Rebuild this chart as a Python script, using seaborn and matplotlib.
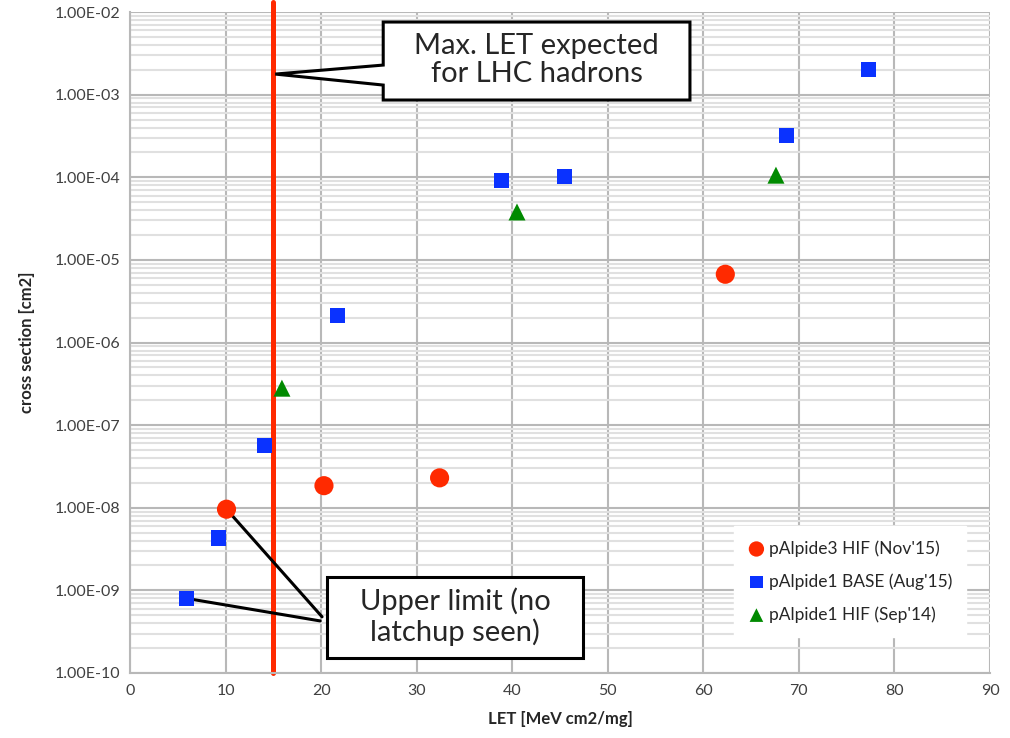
import numpy as np
import pandas as pd
import matplotlib
matplotlib.use("Agg")
import matplotlib.pyplot as plt
from matplotlib.patches import Polygon
from matplotlib.ticker import FixedLocator, FuncFormatter, LogLocator, NullFormatter
import seaborn as sns

# Latchup cross section vs LET for the three irradiation campaigns
p3_hif_let = [10.1, 20.3, 32.4, 62.3]
p3_hif_xs = [9.6e-9, 1.85e-8, 2.3e-8, 6.7e-6]

p1_base_let = [5.9, 9.3, 14.1, 21.7, 38.9, 45.5, 68.7, 77.3]
p1_base_xs = [8.0e-10, 4.3e-9, 5.7e-8, 2.1e-6, 9.2e-5, 1.03e-4, 3.2e-4, 2.0e-3]

p1_hif_let = [15.9, 40.5, 67.6]
p1_hif_xs = [2.8e-7, 3.8e-5, 1.06e-4]

series_names = ["pAlpide3 HIF (Nov'15)", "pAlpide1 BASE (Aug'15)", "pAlpide1 HIF (Sep'14)"]
max_let_lhc = 15.0

x_ticks = list(range(0, 100, 10))
y_decades = [1e-10, 1e-9, 1e-8, 1e-7, 1e-6, 1e-5, 1e-4, 1e-3, 1e-2]

df = pd.concat([
    pd.DataFrame({"LET": p3_hif_let, "xs": p3_hif_xs, "series": series_names[0]}),
    pd.DataFrame({"LET": p1_base_let, "xs": p1_base_xs, "series": series_names[1]}),
    pd.DataFrame({"LET": p1_hif_let, "xs": p1_hif_xs, "series": series_names[2]}),
])

sns.set_style("white")
plt.rcParams["font.family"] = ["Lato", "DejaVu Sans"]

fig = plt.figure(figsize=(10.1, 7.38), dpi=100)
ax = fig.add_axes([0.1287, 0.0881, 0.8515, 0.8956])

ax.set_yscale("log")
ax.set_xlim(0, 90)
ax.set_ylim(1e-10, 1e-2)

# grid: major decades, minor 2..9, verticals every 10
ax.xaxis.set_major_locator(FixedLocator(x_ticks))
ax.yaxis.set_major_locator(FixedLocator(y_decades))
ax.yaxis.set_minor_locator(LogLocator(base=10, subs=np.arange(2, 10), numticks=20))
ax.yaxis.set_minor_formatter(NullFormatter())
ax.yaxis.set_major_formatter(FuncFormatter(lambda v, _: f"{v:.2E}"))
ax.grid(True, which="major", axis="both", color="#b8b8b8", linewidth=1.5, zorder=0)
ax.grid(True, which="minor", axis="y", color="#e0e0e0", linewidth=1.5, zorder=0)
ax.set_axisbelow(True)

for side in ["top", "right"]:
    ax.spines[side].set_visible(False)
for side in ["left", "bottom"]:
    ax.spines[side].set_color("#b8b8b8")
    ax.spines[side].set_linewidth(1.5)

ax.tick_params(axis="y", which="major", length=4, color="#b8b8b8", width=1.5,
               labelsize=11.5, labelcolor="#404040", pad=3)
ax.tick_params(axis="y", which="minor", length=0)
ax.tick_params(axis="x", which="major", length=0, labelsize=11.5, labelcolor="#404040", pad=8)

ax.set_xlabel("LET [MeV cm2/mg]", fontsize=12, fontweight="bold", labelpad=9)
ax.set_ylabel("cross section [cm2]", fontsize=12, fontweight="bold", labelpad=14)

# maximum LET expected for LHC hadrons
ax.axvline(max_let_lhc, ymin=0, ymax=1.015, color="#ff2a00", linewidth=3.6,
           clip_on=False, zorder=2)

# leader lines of the "upper limit" callout
ax.annotate("", xy=(p3_hif_let[0], p3_hif_xs[0]), xytext=(20.1, 10 ** -9.32),
            arrowprops=dict(arrowstyle="-", color="black", lw=2.2, shrinkA=0, shrinkB=0),
            zorder=3)
ax.annotate("", xy=(p1_base_let[0], p1_base_xs[0]), xytext=(19.9, 10 ** -9.37),
            arrowprops=dict(arrowstyle="-", color="black", lw=2.2, shrinkA=0, shrinkB=0),
            zorder=3)

marker_style = {
    series_names[0]: dict(marker="o", color="#ff2a00", s=190),
    series_names[1]: dict(marker="s", color="#0a32ff", s=120),
    series_names[2]: dict(marker="^", color="#008a00", s=150),
}
for name in series_names:
    st = marker_style[name]
    sns.scatterplot(data=df[df["series"] == name], x="LET", y="xs", ax=ax,
                    marker=st["marker"], color=st["color"], s=st["s"],
                    edgecolor="none", label=name, zorder=4)

# callout box with a wedge pointing at the red line
x0, x1 = 26.5, 58.6
yt, yb = 10 ** -2.121, 10 ** -3.065
wedge_hi, wedge_lo = 10 ** -2.642, 10 ** -2.884
tip = (15.2, 10 ** -2.751)
callout = Polygon([(x0, yt), (x1, yt), (x1, yb), (x0, yb), (x0, wedge_lo), tip,
                   (x0, wedge_hi)], closed=True, facecolor="white", edgecolor="black",
                  linewidth=2.2, joinstyle="miter", zorder=5)
ax.add_patch(callout)
ax.text((x0 + x1) / 2, 10 ** -2.58, "Max. LET expected\nfor LHC hadrons",
        ha="center", va="center", fontsize=21, linespacing=1.12, zorder=6)

# "upper limit" text box
bx0, bx1 = 20.6, 47.4
byt, byb = 10 ** -8.840, 10 ** -9.821
box = Polygon([(bx0, byt), (bx1, byt), (bx1, byb), (bx0, byb)], closed=True,
              facecolor="white", edgecolor="black", linewidth=2.2, zorder=5)
ax.add_patch(box)
ax.text((bx0 + bx1) / 2, 10 ** -9.32, "Upper limit (no\nlatchup seen)",
        ha="center", va="center", fontsize=21, linespacing=1.12, zorder=6)

leg = ax.legend(loc="lower right", bbox_to_anchor=(0.982, 0.042), fontsize=12.5,
                frameon=True, fancybox=False, edgecolor="white", framealpha=1,
                handletextpad=0.2, handlelength=1.0, labelspacing=0.95,
                borderpad=0.8, markerscale=0.8)
leg.set_zorder(7)

fig.savefig("out.png", dpi=100)
